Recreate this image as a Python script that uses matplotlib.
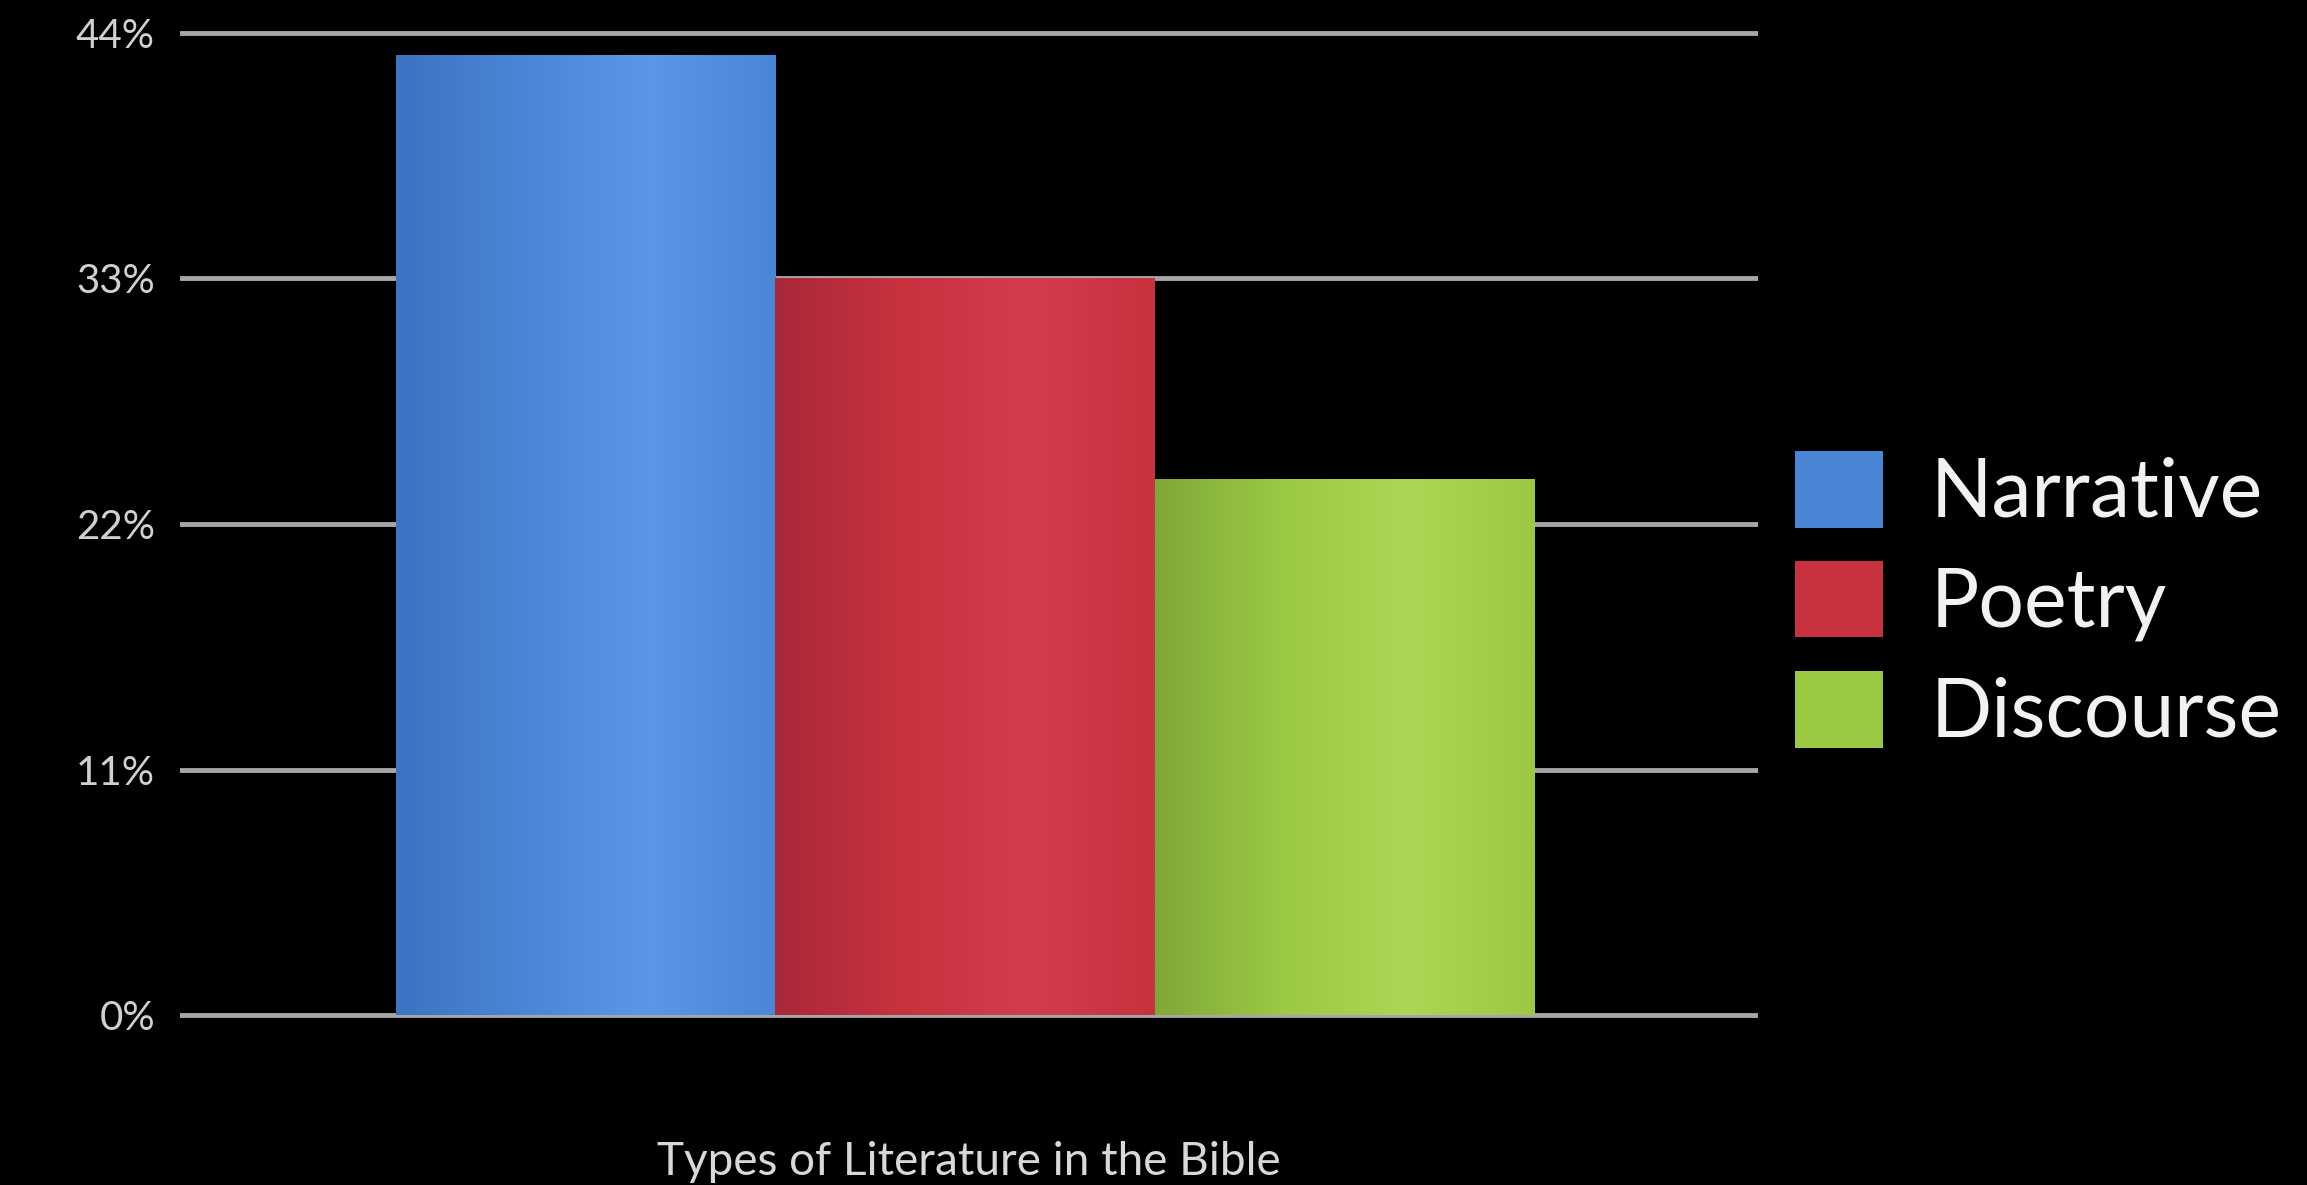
import numpy as np
import matplotlib.pyplot as plt
from matplotlib.colors import LinearSegmentedColormap

# values (percent of the Bible)
categories = ['Narrative', 'Poetry', 'Discourse']
shares = [43, 33, 24]
tick_values = [0, 11, 22, 33, 44]
tick_labels = ['0%', '11%', '22%', '33%', '44%']

bar_colors = ['#4a86d6', '#c8323f', '#9cc944']
dark_colors = ['#3d73c0', '#a8283a', '#7fa838']
light_colors = ['#5a97e6', '#d23c4c', '#acd653']

plt.rcParams['font.family'] = ['Lato', 'DejaVu Sans']

fig = plt.figure(figsize=(23.07, 11.85), dpi=100, facecolor='black')
ax = fig.add_axes([0.078, 0.05, 0.684, 0.931], facecolor='black')

x = np.arange(len(categories))
bars = ax.bar(x, shares, width=1.0, color=bar_colors, zorder=3,
              label=categories)

# horizontal shading on each bar to hint at the 3D look of the original
grad = np.linspace(0, 1, 256).reshape(1, -1)
for b, c0, c1, c2 in zip(bars, dark_colors, bar_colors, light_colors):
    cmap = LinearSegmentedColormap.from_list('g', [c0, c1, c2, c1])
    bx, by = b.get_x(), b.get_y()
    im = ax.imshow(grad, cmap=cmap, aspect='auto', zorder=4,
                   extent=[bx, bx + b.get_width(), by, by + b.get_height()])
    im.set_clip_path(b)

ax.set_xlim(-1.07, 3.09)
ax.set_ylim(-4.94, 44.46)
ax.set_yticks(tick_values)
ax.set_yticklabels(tick_labels)
ax.set_xticks([])
ax.tick_params(axis='y', length=0, labelsize=29, labelcolor='#d0d0d0', pad=18)
ax.yaxis.grid(True, color='#a6a6a6', linewidth=3.5, zorder=1)
for s in ax.spines.values():
    s.set_visible(False)

ax.set_xlabel('Types of Literature in the Bible', fontsize=33,
              color='#d8d8d8')
ax.xaxis.set_label_coords(0.5, -0.033)
ax.xaxis.label.set_va('center')

leg = fig.legend(handles=bars, labels=categories, loc='center left',
                 bbox_to_anchor=(0.778, 0.493), frameon=False, fontsize=58,
                 handlelength=1.09, handleheight=1.09, labelspacing=0.37,
                 handletextpad=0.6, borderpad=0, borderaxespad=0)
for t in leg.get_texts():
    t.set_color('#f2f2f2')

fig.savefig('out.png', dpi=100, facecolor='black')
